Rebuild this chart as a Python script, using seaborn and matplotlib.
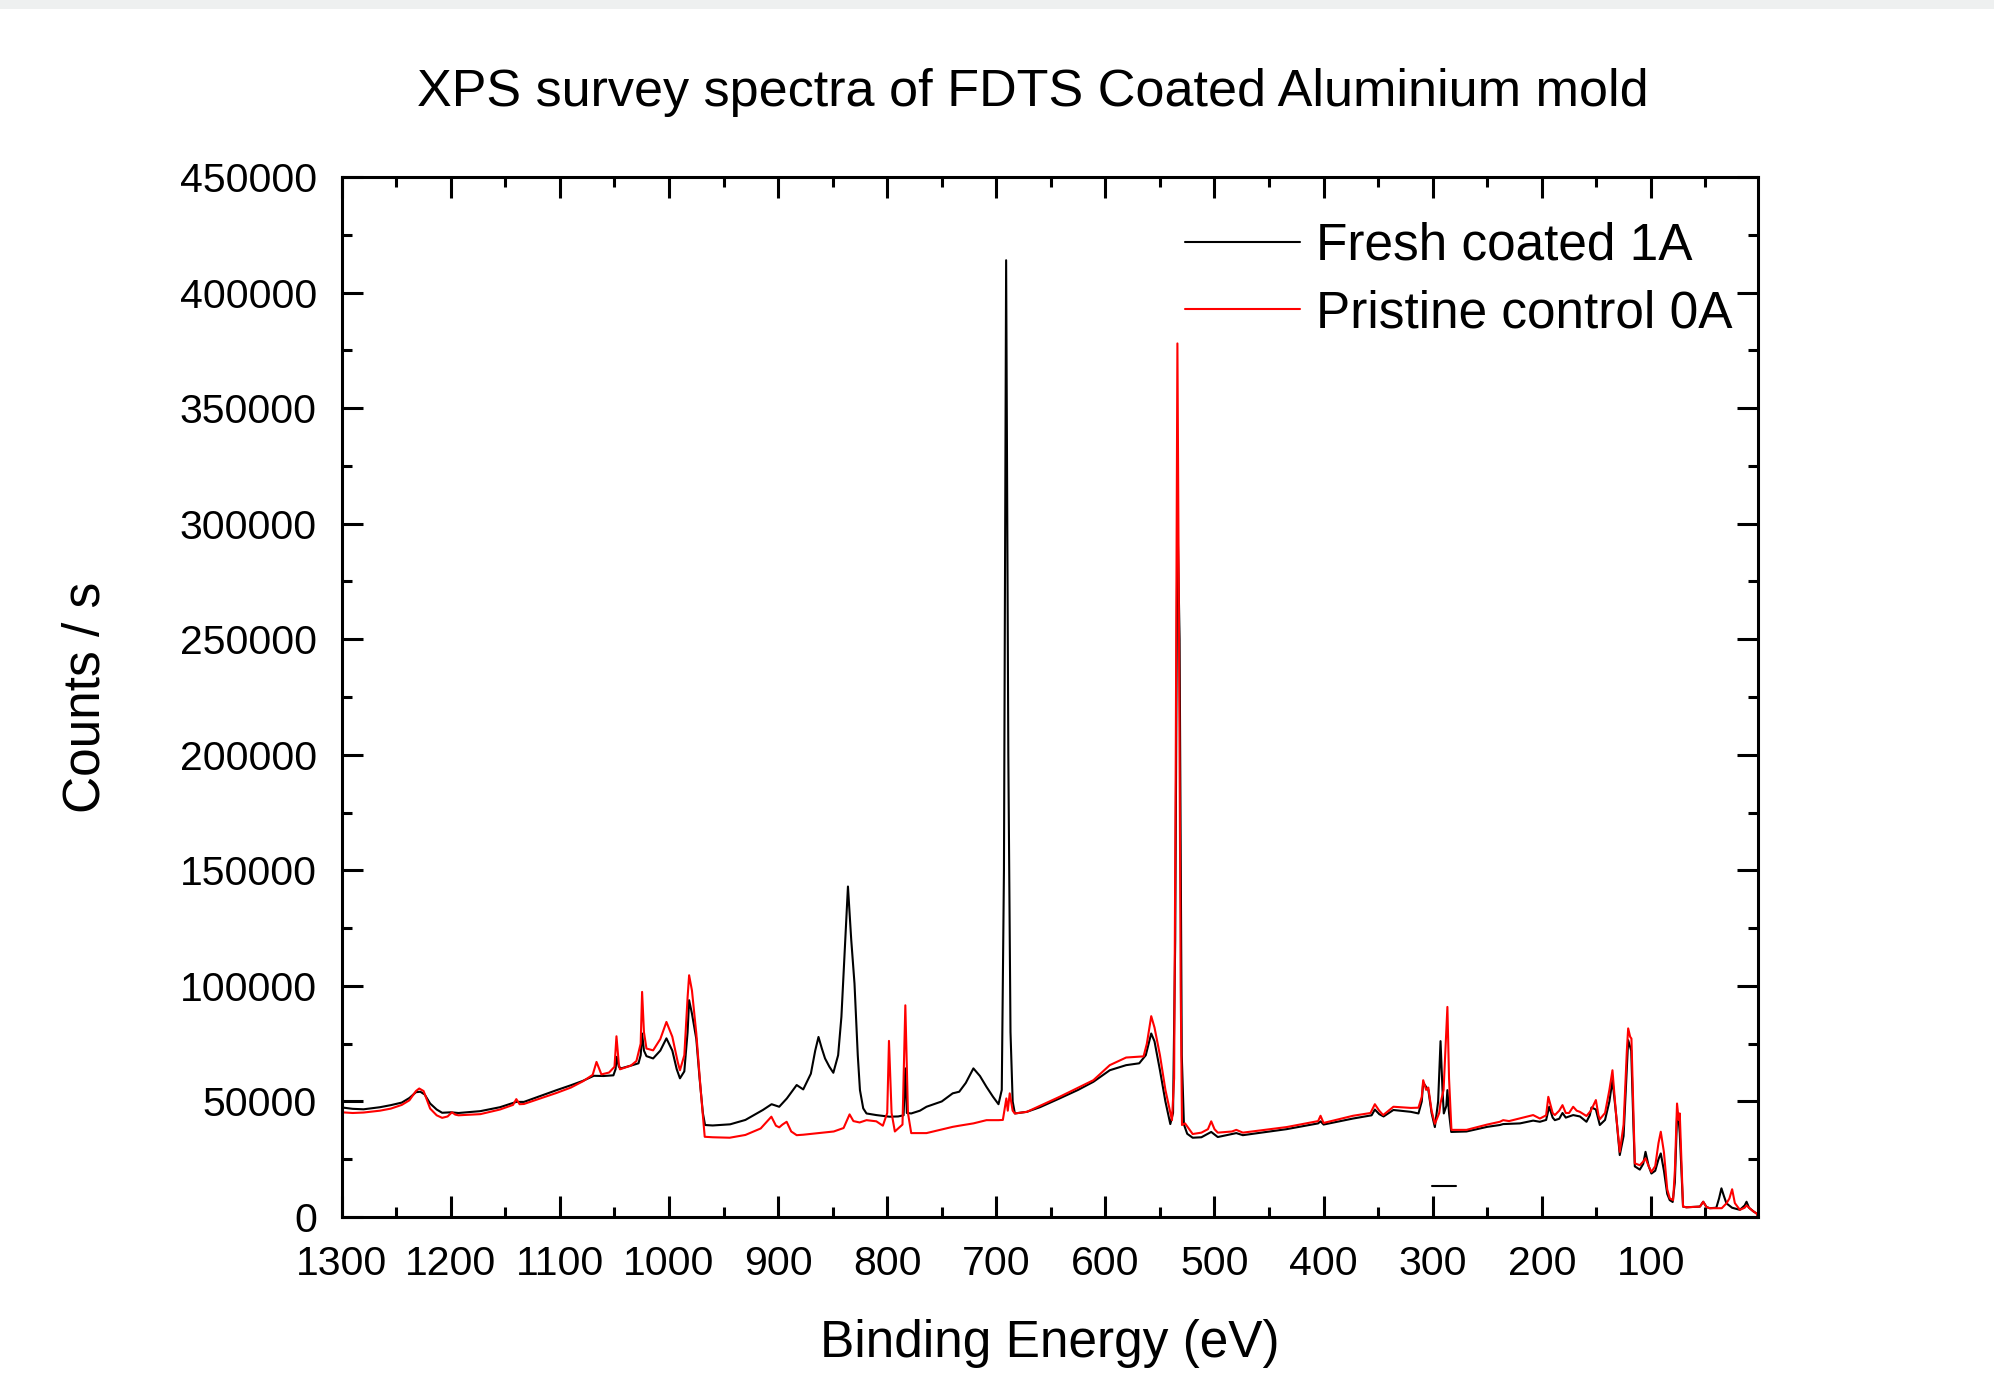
import numpy as np
import pandas as pd
import matplotlib
matplotlib.use('Agg')
import matplotlib.pyplot as plt
from matplotlib.ticker import MultipleLocator
from matplotlib.patches import Rectangle
import seaborn as sns

# espectro da amostra revestida (preto) - energia (eV) e contagens (mil contagens/s)
energia_preto = [1300, 1290, 1280, 1265, 1255, 1245, 1238, 1232, 1228, 1224, 1219, 1213, 1208, 1200, 1193,
                 1173, 1155, 1140, 1133, 1120, 1103, 1090, 1079, 1069, 1060, 1051, 1049, 1048, 1046, 1044,
                 1035, 1028, 1026, 1024.7, 1023, 1020.7, 1014.6, 1008, 1002.4, 997, 993, 990, 986, 983,
                 981.6, 979, 975, 972, 969, 967, 960, 944, 930, 914, 906, 899, 892, 883, 877, 870, 866, 863,
                 860, 857, 853, 849.4, 845, 842, 839, 836, 833, 830, 827, 825, 822, 819, 810, 798, 790, 785,
                 783.4, 782, 778, 770, 764, 750, 740, 734, 728, 721, 715, 709, 703, 698, 695, 693, 691, 689,
                 687, 685, 683, 672, 660, 642, 625, 611, 596, 581, 569, 563, 558, 555, 550, 545, 540.5, 538,
                 536, 534, 532, 530, 528, 525, 520, 512, 503, 497, 480, 474, 434, 405, 402.8, 400, 373, 356,
                 353, 349, 345, 336, 320, 313, 310, 308.7, 304, 301, 298, 295, 292.8, 291, 289.8, 287.5,
                 286.5, 285, 283, 269, 250, 238.4, 235.4, 220, 207.9, 201.7, 196, 193.2, 190, 188, 184, 181,
                 178, 175, 171.2, 165, 159, 156, 154.4, 150.4, 146.8, 142, 138, 135.2, 132, 128.5, 125, 122,
                 120.8, 118, 116, 114.7, 110.1, 107, 104.9, 102, 99.5, 96, 93, 90.9, 88, 85, 82.7, 80, 78,
                 76, 75, 73.5, 71.5, 70.5, 67.4, 55, 52, 49, 46, 40, 37.5, 35.3, 33, 30.7, 25.5, 18.4, 14,
                 12.3, 10, 6.2, 3, 1.6]
contagens_preto = [47.4, 46.8, 46.6, 47.5, 48.4, 49.5, 51.5, 54.0, 54.2, 53.0, 49.1, 46.5, 45.1, 45.3, 45.0,
                   45.8, 47.5, 49.8, 49.8, 52.0, 54.9, 57.0, 58.9, 61.1, 61.0, 61.3, 64, 69.3, 65, 64.3,
                   65.5, 66.5, 70, 79.4, 72, 69.6, 68.6, 72, 77.3, 72, 64, 60.0, 63, 80,
                   93.8, 88, 77, 60, 45, 39.8, 39.6, 40.1, 42, 46.3, 48.8, 47.7, 51.3, 57.1, 55.2, 62, 72, 77.9,
                   73, 68.6, 65, 62.4, 70, 86.6, 115, 143, 120, 101, 70, 54.9, 47, 44.8, 44.1, 43.4, 43.5, 44,
                   64.3, 45, 44.8, 46, 47.7, 50, 53.5, 54.2, 58, 64.3, 61, 56.3, 52, 48.8, 55, 150, 414, 200,
                   80, 50, 44.8, 45.5, 47.5, 51.3, 55, 58.5, 63.5, 65.7, 66.5, 70, 79.4, 76, 63.5, 50, 40.2, 45,
                   120, 305, 250, 70, 40, 36, 34.3, 34.5, 36.8, 34.6, 36.3, 35.4, 38.0, 40.5, 41.4, 40.0, 42.6, 44,
                   46.5, 44.5, 43.5, 46.3, 45.5, 44.8, 50, 58.1, 55, 45, 38.9, 50, 76.1, 55, 44.8, 48,
                   54.9, 45, 36.8, 37.0, 39, 39.8, 40.2, 40.5, 41.7, 41.2, 42, 47.7, 43, 41.9, 42.5, 45.0,
                   43.0, 43.5, 44.1, 43.5, 41.2, 44, 47.4, 46.5, 39.8, 42, 50, 59.2, 45, 26.8, 35, 65,
                   76.5, 72, 40, 21.9, 20.5, 23, 28.2, 22, 18.8, 20, 25, 27.5, 20, 10, 7.3, 6.5, 15,
                   43.4, 45, 36.2, 15, 4.5, 4.2, 4.5, 6.6, 4.3, 3.8, 4, 8, 12.4, 9, 5.9, 4.0, 3.1, 5,
                   6.6, 4, 2.5, 1.5, 0]

# espectro do controle sem revestimento (vermelho)
energia_vermelho = [1300, 1290, 1280, 1265, 1255, 1245, 1238, 1232, 1229, 1225, 1219, 1213, 1208, 1203, 1199,
                    1196, 1193, 1173, 1155, 1143, 1140, 1137, 1133, 1120, 1103, 1090, 1079, 1070, 1066.5, 1062,
                    1055, 1050, 1048.2, 1046, 1045, 1035, 1029.9, 1026, 1024.7, 1023, 1020.7, 1014.6, 1008,
                    1002.4, 997, 992, 990, 986, 983, 981.6, 979, 975, 971, 967.3, 960, 944.4, 930, 916, 906.2,
                    902, 899, 896, 892.2, 888, 883, 877, 863, 849, 840, 834.5, 831, 825.3, 819, 810, 804, 800,
                    798.4, 796, 793, 786, 783.4, 781, 778, 764, 740, 734, 721, 709, 698, 694, 692, 690.8, 689.5,
                    687.7, 685, 683, 672, 642, 611, 596, 581, 565, 562, 558, 555, 550, 545, 539, 537, 535.5, 534,
                    532.5, 531, 529.8, 527, 520, 512, 506, 503, 500, 497, 484, 480, 474, 434, 405, 402.8, 400,
                    373, 357, 353, 349, 345.4, 336, 320, 313, 310, 308.7, 306, 304, 301, 298, 294, 292.8, 290,
                    288, 286.5, 285, 282.8, 269, 250, 238.4, 235.4, 230, 207.9, 201.7, 196, 194, 190, 188, 184,
                    181, 178, 175, 171.2, 168, 165.1, 159, 155, 150.4, 148, 146.8, 142, 138, 135.2, 132, 128.5,
                    125, 122, 120.8, 119, 117.8, 116, 114.7, 110.1, 107, 104.9, 102, 99.5, 96, 93, 90.9, 88, 85,
                    82.7, 79.6, 78, 76, 74.5, 73.5, 72, 70.5, 67.4, 55, 52, 49, 46, 35, 30.7, 28, 25.5, 23,
                    18.4, 14, 12.3, 10, 6.2, 3, 1.6]
contagens_vermelho = [45.3, 45.0, 45.2, 46.0, 46.9, 48.5, 50.5, 54.5, 55.6, 54.5, 46.9, 44, 42.9, 43.5, 45.3,
                      44.3, 44.0, 44.5, 46.5, 48.5, 51.0, 48.8, 48.9, 51, 53.7, 56, 58.7, 61.5, 67.1, 61.7,
                      62.5, 65, 78.2, 66, 63.9, 65.5, 67.5, 75, 97.4, 80, 72.9, 72.1, 77,
                      84.4, 78, 67, 63.5, 70, 95, 104.6, 98, 79.4, 55, 34.7, 34.5, 34.3, 35.5, 38.3, 43.4,
                      39.5, 38.8, 40, 41.2, 37, 35.4, 35.6, 36.3, 37.0, 38.5, 44.4, 41.5, 40.9, 41.9, 41.4, 39.5, 45,
                      76.2, 45, 37.0, 40, 91.6, 45, 36.3, 36.3, 39.0, 39.5, 40.5, 41.9, 41.9, 42, 48, 51.3, 46,
                      53.5, 46, 44.8, 45.5, 52.0, 59.2, 65.7, 69.0, 69.5, 75, 86.9, 82, 70, 55, 41.9, 60, 200, 378,
                      250, 100, 39.8, 40.5, 35.9, 36.5, 38, 41.4, 38, 36.5, 37, 37.7, 36.5, 38.9, 41.5, 43.8, 40.7,
                      43.8, 45, 48.8, 46, 44.1, 47.7, 47.2, 47.3, 52, 59.2, 55, 56.0, 46, 40.3, 45, 49.3, 55,
                      75, 90.9, 60, 37.7, 37.7, 40, 41.2, 41.9, 41.5, 44.1, 42.6, 44, 52.0, 45.0, 44.1, 46,
                      48.4, 45, 45.0, 47.7, 46, 45.5, 43.7, 46, 50.6, 44, 42.3, 45, 55, 63.5, 45, 28.2,
                      40, 72, 81.6, 78, 77.2, 45, 23.2, 22.4, 24, 25.4, 22, 19.5, 22, 32, 36.9, 28, 12,
                      8.1, 7.3, 20, 49.1, 42, 44.8, 25, 4.5, 4.2, 4.5, 6.6, 4.3, 3.8, 3.8, 5.9, 8, 12.0, 6,
                      3.1, 4, 5.0, 4, 2.5, 1.5, 0]

# pequeno traço preto que aparece perto de 290 eV na figura original
energia_traco = [301, 278.7]
contagens_traco = [13.4, 13.4]

series = ['Fresh coated 1A', 'Pristine control 0A']
cores = ['black', '#ff0000']

df = pd.concat([
    pd.DataFrame({'energia': energia_preto, 'contagens': np.array(contagens_preto) * 1000, 'serie': series[0]}),
    pd.DataFrame({'energia': energia_vermelho, 'contagens': np.array(contagens_vermelho) * 1000, 'serie': series[1]}),
])

sns.set_style('ticks')
plt.rcParams['font.family'] = ['Liberation Sans', 'DejaVu Sans']
plt.rcParams['text.color'] = 'black'
plt.rcParams['axes.labelcolor'] = 'black'
plt.rcParams['xtick.color'] = 'black'
plt.rcParams['ytick.color'] = 'black'

fig = plt.figure(figsize=(19.94, 13.82), dpi=100)
ax = fig.add_axes([0.1714, 0.1194, 0.7104, 0.7525])

# faixa cinza no topo da imagem original
fig.add_artist(Rectangle((0, 1 - 9 / 1382), 1, 9 / 1382, transform=fig.transFigure,
                         facecolor='#eef0f0', edgecolor='none'))

sns.lineplot(data=df, x='energia', y='contagens', hue='serie', palette=cores,
             linewidth=1.5, ax=ax, estimator=None, sort=False)
ax.plot(energia_traco, np.array(contagens_traco) * 1000, color='black', linewidth=1.5)

ax.set_xlim(1300, 1.5)
ax.set_ylim(0, 450000)
ax.xaxis.set_major_locator(MultipleLocator(100))
ax.xaxis.set_minor_locator(MultipleLocator(50))
ax.yaxis.set_major_locator(MultipleLocator(50000))
ax.yaxis.set_minor_locator(MultipleLocator(25000))
ax.tick_params(which='both', direction='in', top=True, right=True, width=2.2,
               colors='black', labelcolor='black')
ax.tick_params(which='major', length=15, labelsize=29.5)
ax.tick_params(which='minor', length=7.5)
ax.tick_params(axis='x', pad=20.5)
ax.tick_params(axis='y', pad=18)
for lado in ax.spines.values():
    lado.set_linewidth(2.2)
    lado.set_color('black')

ax.set_title('XPS survey spectra of FDTS Coated Aluminium mold', fontsize=37.5, x=0.488, pad=51.5,
             color='black')
ax.set_xlabel('Binding Energy (eV)', fontsize=37, color='black')
ax.set_ylabel('Counts / s', fontsize=37, color='black')
ax.xaxis.set_label_coords(0.5, -0.098)
ax.yaxis.set_label_coords(-0.163, 0.5)

leg = ax.legend(loc='upper left', bbox_to_anchor=(0.5954, 0.957), frameon=False, fontsize=37,
                handlelength=2.23, handletextpad=0.32, labelspacing=0.36, borderpad=0, borderaxespad=0)
for texto in leg.get_texts():
    texto.set_color('black')

fig.savefig('out.png', dpi=100, facecolor='white')
